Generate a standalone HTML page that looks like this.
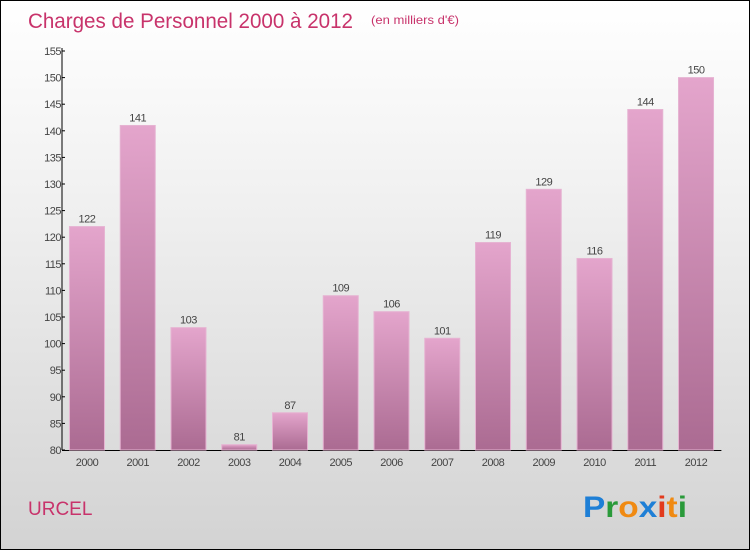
<!DOCTYPE html>
<html><head><meta charset="utf-8"><style>
body{margin:0}
#c{position:relative;width:748px;height:548px;border:1px solid #000;background:linear-gradient(#ffffff,#f3f3f3 30%,#d3d3d3);font-family:"Liberation Sans",sans-serif;overflow:hidden}
</style></head><body>
<div id="c">
<svg id="s" width="748" height="548">
<defs><linearGradient id="g" x1="0" y1="0" x2="0" y2="1"><stop offset="0" stop-color="#e4a5cc"/><stop offset="1" stop-color="#ab6b92"/></linearGradient></defs>
<text x="27" y="27" font-size="21" fill="#c8336b" textLength="325" lengthAdjust="spacingAndGlyphs">Charges de Personnel 2000 à 2012</text>
<text x="370" y="23" font-size="12" fill="#c8336b" textLength="88" lengthAdjust="spacingAndGlyphs">(en milliers d'€)</text>
<text x="27" y="514" font-size="19" fill="#c8336b">URCEL</text>
<g font-size="30" font-weight="bold" font-family="Liberation Sans,sans-serif"><text x="582" y="516" textLength="104" lengthAdjust="spacingAndGlyphs"><tspan fill="#1e7fd6">P</tspan><tspan fill="#2a9a3a">r</tspan><tspan fill="#f08a12">o</tspan><tspan fill="#1e7fd6">x</tspan><tspan fill="#e23b1d">i</tspan><tspan fill="#f08a12">t</tspan><tspan fill="#2a9a3a">i</tspan></text></g>
<g id="ax"></g><g id="bars"></g>
</svg></div>
<script>
const categories=["2000","2001","2002","2003","2004","2005","2006","2007","2008","2009","2010","2011","2012"];
const values=[122,141,103,81,87,109,106,101,119,129,116,144,150];
const yTicks=[80,85,90,95,100,105,110,115,120,125,130,135,140,145,150,155];
const NS="http://www.w3.org/2000/svg";
const x0=60.6,x1=720.4,yTop=50,yBot=449,vMin=80,vMax=155;
const band=(x1-x0)/categories.length,bw=35;
function y(v){return yBot-(v-vMin)/(vMax-vMin)*(yBot-yTop);}
function xc(i){return x0+band*(i+0.5);}
function mk(t,a,p,txt){const e=document.createElementNS(NS,t);for(const k in a)e.setAttribute(k,a[k]);if(txt!==undefined)e.textContent=txt;p.appendChild(e);return e;}
const ax=document.getElementById('ax'),bars=document.getElementById('bars');
const yl=mk('line',{x1:61,y1:yTop-3,x2:61,y2:yBot,stroke:'#000'},ax);


const xl=mk('line',{x1:61,y1:yBot+0.5,x2:x1,y2:yBot+0.5,stroke:'#000'},ax);


yTicks.forEach(v=>{
 mk('line',{x1:61,y1:y(v),x2:64,y2:y(v),stroke:'#000'},ax);
 const t=mk('text',{x:60,y:y(v)+4,'text-anchor':'end','font-size':11,fill:'#444','letter-spacing':'-0.5'},ax,v);
 
 
});
categories.forEach((c,i)=>{
 const v=values[i],top=y(v);
 const r=mk('rect',{x:xc(i)-bw/2,y:top,width:bw,height:yBot-top,fill:'url(#g)',stroke:'#e6b3d2','stroke-width':1},bars);
 
 
 const l=mk('text',{x:xc(i),y:top-4,'text-anchor':'middle','font-size':11,fill:'#444','letter-spacing':'-0.5'},bars,v);
 
 
 const xt=mk('text',{x:xc(i),y:yBot+16,'text-anchor':'middle','font-size':11,fill:'#444','letter-spacing':'-0.5'},ax,c);
 
 
});
</script>
</body></html>
